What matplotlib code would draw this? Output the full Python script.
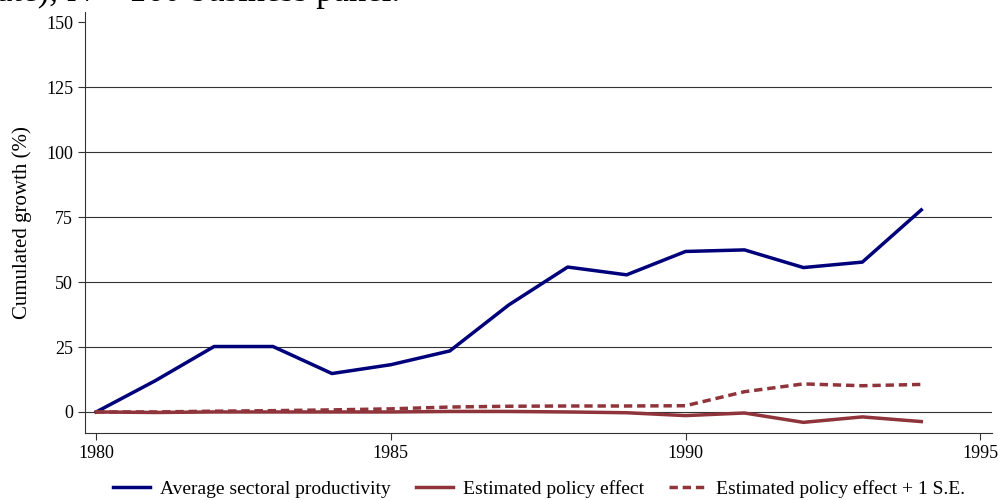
import matplotlib
matplotlib.use("Agg")
import matplotlib.pyplot as plt

plt.rcParams['font.family'] = ['Liberation Serif', 'DejaVu Serif']

years = list(range(1980, 1995))
avg_productivity = [0, 12, 25.2, 25.2, 14.8, 18.2, 23.5, 41.2, 55.8, 52.8, 61.8, 62.4, 55.6, 57.7, 77.8]
policy_effect = [0, -0.2, 0, 0, 0, 0, 0.2, 0.2, 0, -0.3, -1.4, -0.4, -4.0, -1.9, -3.7]
policy_effect_se = [0, 0, 0.3, 0.5, 0.8, 1.2, 1.9, 2.2, 2.3, 2.3, 2.4, 7.8, 10.8, 10.1, 10.6]

x_ticks = [1980, 1985, 1990, 1995]
y_ticks = [0, 25, 50, 75, 100, 125, 150]
grid_levels = [0, 25, 50, 75, 100, 125]

navy = '#00007a'
cranberry = '#8f343b'

fig = plt.figure(figsize=(9.98, 5.0), dpi=100)
ax = fig.add_axes([85/998, 1 - 433/500, (992-85)/998, (433-12)/500])

for g in grid_levels:
    ax.axhline(g, color='#333333', lw=0.8, zorder=1)

ax.plot(years, avg_productivity, color=navy, lw=2.5, label='Average sectoral productivity', zorder=3)
ax.plot(years, policy_effect, color=cranberry, lw=2.5, label='Estimated policy effect', zorder=3)
ax.plot(years, policy_effect_se, color=cranberry, lw=2.5, ls=(0, (2.4, 1.4)),
        label='Estimated policy effect + 1 S.E.', zorder=3)

ax.set_xlim(1979.81, 1995.2)
ax.set_ylim(-8.1, 154)
ax.set_xticks(x_ticks)
ax.set_yticks(y_ticks)
ax.tick_params(axis='both', labelsize=13, length=5, width=0.8, color='#333333', direction='out')
for s in ['top', 'right']:
    ax.spines[s].set_visible(False)
for s in ['left', 'bottom']:
    ax.spines[s].set_color('#333333')
    ax.spines[s].set_linewidth(0.8)

ax.set_ylabel('Cumulated growth (%)', fontsize=15, labelpad=10)

leg = fig.legend(loc='center', bbox_to_anchor=(0.54, 1 - 489/500), ncol=3, frameon=False,
                 fontsize=14, handlelength=1.9, columnspacing=1.3, handletextpad=0.5)

fig.text(-0.003, 1 - 1/500, 'ate), N = 160 business panel.', fontsize=25, va='baseline', ha='left')

fig.savefig('out.png', dpi=100, facecolor='white')
